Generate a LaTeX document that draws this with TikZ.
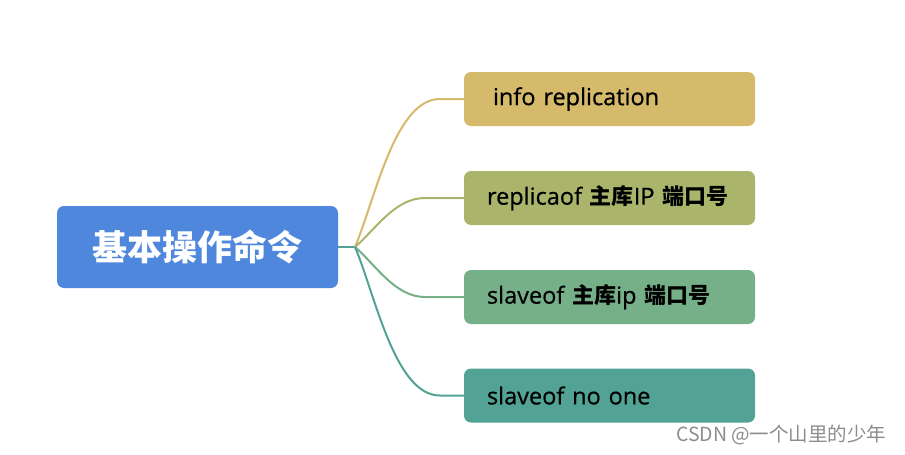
\documentclass[tikz,border=0pt]{standalone}
\usepackage{fontspec}
\setmainfont{Open Sans}
\newfontfamily\cmdfont{Open Sans}[FakeBold=0.6]
\newfontfamily\cjk{Noto Sans CJK SC}
\usepackage{xcolor}
\usetikzlibrary{positioning}

\definecolor{rootblue}{HTML}{4F87DC}
\definecolor{cmdyellow}{HTML}{D4BA6A}
\definecolor{cmdolive}{HTML}{ABB46B}
\definecolor{cmdgreen}{HTML}{76B089}
\definecolor{cmdteal}{HTML}{52A396}

\newcommand{\zh}[1]{{\cjk\bfseries\fontsize{22}{26}\selectfont #1}}

\begin{document}
\begin{tikzpicture}[
  x=1pt, y=-1pt,
  rootbox/.style={fill=rootblue, rounded corners=7pt, minimum width=281pt, minimum height=82pt,
    text=white, font=\cjk\bfseries\fontsize{35}{40}\selectfont},
  cmdbox/.style={rounded corners=7pt, minimum width=291pt, minimum height=54pt, inner xsep=23pt,
    text width=245pt, align=left, font=\cmdfont\fontsize{23.5}{26}\selectfont},
  branch/.style={line width=2pt}
]
\useasboundingbox (0,0) rectangle (905,455);

\node [rootbox] (root) at (197.5,247) {基本操作命令};
\coordinate (hub) at (355,247);

\node [cmdbox, fill=cmdyellow] (info) at (609.5,99) {\hspace*{6pt}info replication};
\node [cmdbox, fill=cmdolive] (replicaof) at (609.5,198) {replicaof \zh{主库}IP \zh{端口号}};
\node [cmdbox, fill=cmdgreen] (slaveof) at (609.5,297) {slaveof \zh{主库}ip \zh{端口号}};
\node [cmdbox, fill=cmdteal] (noone) at (609.5,395.5) {slaveof no one};

% connectors
\draw [branch, cmdteal] (root.east) -- (hub);
\draw [branch, cmdyellow] (hub) .. controls +(20,-47) and +(-45,0) .. ([xshift=-24pt]info.west) -- (info.west);
\draw [branch, cmdolive] (hub) .. controls +(20,-17) and +(-30,0) .. ([xshift=-39pt]replicaof.west) -- (replicaof.west);
\draw [branch, cmdgreen] (hub) .. controls +(20,17) and +(-30,0) .. ([xshift=-39pt]slaveof.west) -- (slaveof.west);
\draw [branch, cmdteal] (hub) .. controls +(20,47) and +(-45,0) .. ([xshift=-24pt]noone.west) -- (noone.west);

\node [text=black!45, font=\cjk\fontsize{19.5}{22}\selectfont, anchor=east] (mark) at (890,435) {CSDN @一个山里的少年};
\end{tikzpicture}
\end{document}
